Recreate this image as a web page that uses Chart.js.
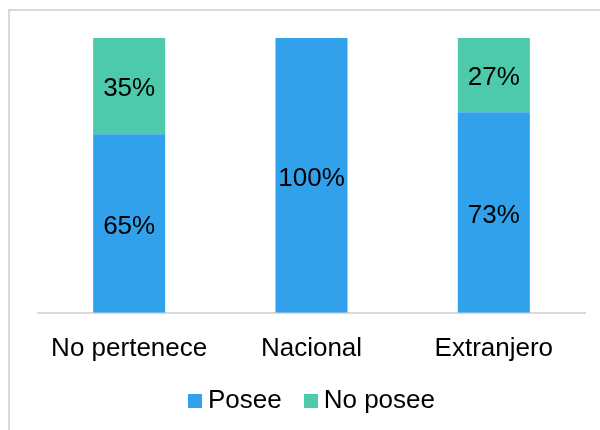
<!DOCTYPE html>
<html>
<head>
<meta charset="utf-8">
<script src="https://cdn.jsdelivr.net/npm/chart.js@4.4.1/dist/chart.umd.min.js"></script>
<style>
    html, body { margin: 0; padding: 0; background: #fff; }
    #wrap { position: relative; width: 600px; height: 430px; overflow: hidden; }
    #frame {
        position: absolute; left: 8px; top: 9px; width: 600px; height: 430px;
        border-left: 2px solid #d9d9d9; border-top: 2px solid #d9d9d9;
        pointer-events: none;
    }
    #legend {
        position: absolute; left: 38px; width: 547px; top: 386px;
        text-align: center; font: 26px "Liberation Sans", Arial, sans-serif;
        line-height: 26px; color: #000; white-space: nowrap;
    }
    .item { display: inline-block; margin: 0 11px; }
    .box { display: inline-block; width: 14px; height: 14px; margin-right: 6px; }
</style>
</head>
<body>
<div id="wrap">
    <canvas id="chart" width="600" height="430"></canvas>
    <div id="frame"></div>
    <div id="legend"></div>
</div>
<script>
// Chart data
const categories = ["No pertenece", "Nacional", "Extranjero"];
const posee = [65, 100, 73];
const noPosee = [35, 0, 27];
const seriesNames = ["Posee", "No posee"];
const seriesColors = ["#31a1eb", "#4dcaab"];

const FONT = "'Liberation Sans', Arial, sans-serif";

// Percent labels in the middle of each segment
const segmentLabels = {
    id: 'segmentLabels',
    afterDatasetsDraw(chart) {
        const ctx = chart.ctx;
        ctx.save();
        ctx.font = "26px " + FONT;
        ctx.fillStyle = "#000";
        ctx.textAlign = "center";
        ctx.textBaseline = "middle";
        chart.data.datasets.forEach((ds, i) => {
            chart.getDatasetMeta(i).data.forEach((bar, j) => {
                const v = ds.data[j];
                if (!v) return;
                ctx.fillText(v + "%", bar.x, (bar.y + bar.base) / 2 + 3);
            });
        });
        ctx.restore();
    }
};

const chart = new Chart(document.getElementById('chart'), {
    type: 'bar',
    data: {
        labels: categories,
        datasets: [
            { label: seriesNames[0], data: posee, backgroundColor: seriesColors[0] },
            { label: seriesNames[1], data: noPosee, backgroundColor: seriesColors[1] }
        ]
    },
    options: {
        responsive: false,
        animation: false,
        layout: { padding: { top: 38, left: 38, right: 15, bottom: 46 } },
        datasets: { bar: { categoryPercentage: 1, barPercentage: 0.395 } },
        scales: {
            x: {
                stacked: true,
                grid: { display: false, drawTicks: false },
                border: { display: true, color: '#d9d9d9', width: 2 },
                ticks: { color: '#000', padding: 20, font: { family: FONT, size: 26 } }
            },
            y: { stacked: true, display: false, min: 0, max: 100 }
        },
        plugins: {
            legend: { display: false },
            tooltip: { enabled: false }
        }
    },
    plugins: [segmentLabels]
});

// Legend in HTML so the box/text spacing matches
const legend = document.getElementById('legend');
chart.data.datasets.forEach(ds => {
    const item = document.createElement('span');
    item.className = 'item';
    item.innerHTML = `<span class="box" style="background:${ds.backgroundColor}"></span>${ds.label}`;
    legend.appendChild(item);
});
</script>
</body>
</html>
